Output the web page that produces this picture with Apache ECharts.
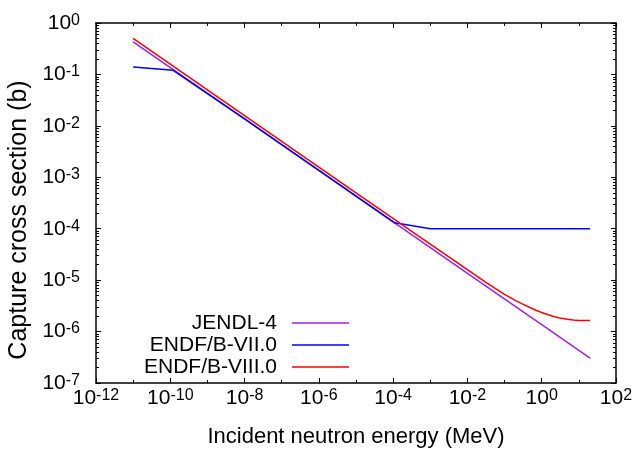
<!DOCTYPE html>
<html>
<head>
<meta charset="utf-8">
<script src="https://cdn.jsdelivr.net/npm/echarts@6/dist/echarts.min.js"></script>
<style>
html,body{margin:0;padding:0;background:#fff;}
#chart{width:637px;height:449px;}
</style>
</head>
<body>
<div id="chart"></div>
<script>
// ---- data (energy in MeV, cross section in barns) ----
const jendlE = [1e-11, 1e-10, 1e-8, 1e-6, 1e-4, 1e-2, 1, 20];
const jendlS = [0.43, 0.136, 0.0136, 1.36e-3, 1.36e-4, 1.36e-5, 1.36e-6, 3.04e-7];

const endf7E = [1e-11, 1.2e-10, 1e-8, 1e-6, 1.1e-4, 1e-3, 20];
const endf7S = [0.14, 0.12, 0.0136, 1.36e-3, 1.30e-4, 1.0e-4, 1.0e-4];

const endf8E = [1e-11, 1e-8, 1e-5, 1e-3, 1e-2, 0.03, 0.06, 0.1, 0.2, 0.3, 0.5, 0.7, 1, 1.5, 2, 3, 5, 7, 10, 15, 20];
const endf8S = [0.50, 0.0158, 5.0e-4, 5.0e-5, 1.6e-5, 9.3e-6, 6.7e-6, 5.3e-6, 4.0e-6, 3.45e-6, 2.9e-6, 2.6e-6, 2.35e-6, 2.12e-6, 1.98e-6, 1.84e-6, 1.73e-6, 1.68e-6, 1.65e-6, 1.64e-6, 1.65e-6];

const seriesNames = ['JENDL-4', 'ENDF/B-VII.0', 'ENDF/B-VIII.0'];
const seriesColors = ['#a020f0', '#0000ff', '#ff0000'];

const xMajor = [1e-12, 1e-10, 1e-8, 1e-6, 1e-4, 1e-2, 1, 1e2];
const xMinor = [1e-11, 1e-9, 1e-7, 1e-5, 1e-3, 1e-1, 1e1];
const yMajor = [1e-7, 1e-6, 1e-5, 1e-4, 1e-3, 1e-2, 1e-1, 1];
const yMinorMult = [2, 3, 4, 5, 6, 7, 8, 9];

const xTitle = 'Incident neutron energy (MeV)';
const yTitle = 'Capture cross section (b)';

// ---- build ----
const yMinor = [];
yMajor.slice(0, -1).forEach(d => yMinorMult.forEach(m => yMinor.push(parseFloat((m * d).toPrecision(3)))));

function pairs(xs, ys) { return xs.map((x, i) => [x, ys[i]]); }

const FONT = 'Liberation Sans, Arial, Helvetica, sans-serif';
const rich = {
  b: { fontSize: 21, fontFamily: FONT, color: '#000', verticalAlign: 'bottom', lineHeight: 21 },
  s: { fontSize: 16, fontFamily: FONT, color: '#000', verticalAlign: 'top', lineHeight: 16, padding: [0, 0, 12, 0] }
};
function expLabel(v) {
  const e = Math.round(Math.log10(v));
  return '{b|10}{s|' + e + '}';
}

const X = { min: 1e-12, max: 100 };
const Y = { min: 1e-7, max: 1 };
const lineCol = '#000';

function xAxisDef(pos, major, labels) {
  return {
    type: 'log', logBase: 10, gridIndex: 0, position: pos, min: X.min, max: X.max,
    axisLine: { show: major, onZero: false, lineStyle: { color: lineCol, width: 1.5 } },
    axisTick: { show: true, inside: true, length: major ? 5 : 3, customValues: major ? xMajor : xMinor,
      lineStyle: { color: lineCol, width: 1 } },
    axisLabel: { show: labels, customValues: xMajor, formatter: expLabel, rich: rich, margin: 5 },
    splitLine: { show: false }, minorTick: { show: false }
  };
}
function yAxisDef(pos, major, labels) {
  return {
    type: 'log', logBase: 10, gridIndex: 0, position: pos, min: Y.min, max: Y.max,
    axisLine: { show: major, onZero: false, lineStyle: { color: lineCol, width: 1.5 } },
    axisTick: { show: true, inside: true, length: major ? 5 : 3, customValues: major ? yMajor : yMinor,
      lineStyle: { color: lineCol, width: 1 } },
    axisLabel: { show: labels, customValues: yMajor, formatter: expLabel, rich: rich, margin: 16 },
    splitLine: { show: false }, minorTick: { show: false }
  };
}

const chart = echarts.init(document.getElementById('chart'), null, { renderer: 'canvas' });
chart.setOption({
  animation: false,
  backgroundColor: '#fff',
  grid: { left: 96, top: 23, right: 21, bottom: 66, containLabel: false, outerBoundsMode: 'none' },
  xAxis: [
    Object.assign(xAxisDef('bottom', true, true), {
      name: xTitle, nameLocation: 'middle', nameGap: 43,
      nameTextStyle: { fontSize: 22, fontFamily: FONT, color: '#000' }
    }),
    xAxisDef('bottom', false, false),
    xAxisDef('top', true, false),
    xAxisDef('top', false, false)
  ],
  yAxis: [
    Object.assign(yAxisDef('left', true, true), {
      name: yTitle, nameLocation: 'middle', nameGap: 62,
      nameTextStyle: { fontSize: 25, fontFamily: FONT, color: '#000', padding: [0, 34, 0, 0] }
    }),
    yAxisDef('left', false, false),
    yAxisDef('right', true, false),
    yAxisDef('right', false, false)
  ],
  legend: {
    orient: 'vertical', left: 127, top: 312, align: 'right', padding: 0,
    icon: 'rect', itemWidth: 57, itemHeight: 1.5, itemGap: 0,
    data: seriesNames,
    textStyle: { fontSize: 21, fontFamily: FONT, color: '#000', width: 150, align: 'right', lineHeight: 22, padding: [0, 10, 0, 0] }
  },
  series: [
    { name: seriesNames[0], type: 'line', data: pairs(jendlE, jendlS), symbol: 'none',
      lineStyle: { color: seriesColors[0], width: 1.5 }, itemStyle: { color: seriesColors[0] } },
    { name: seriesNames[1], type: 'line', data: pairs(endf7E, endf7S), symbol: 'none',
      lineStyle: { color: seriesColors[1], width: 1.5 }, itemStyle: { color: seriesColors[1] } },
    { name: seriesNames[2], type: 'line', data: pairs(endf8E, endf8S), symbol: 'none',
      lineStyle: { color: seriesColors[2], width: 1.5 }, itemStyle: { color: seriesColors[2] } }
  ]
});
</script>
</body>
</html>
